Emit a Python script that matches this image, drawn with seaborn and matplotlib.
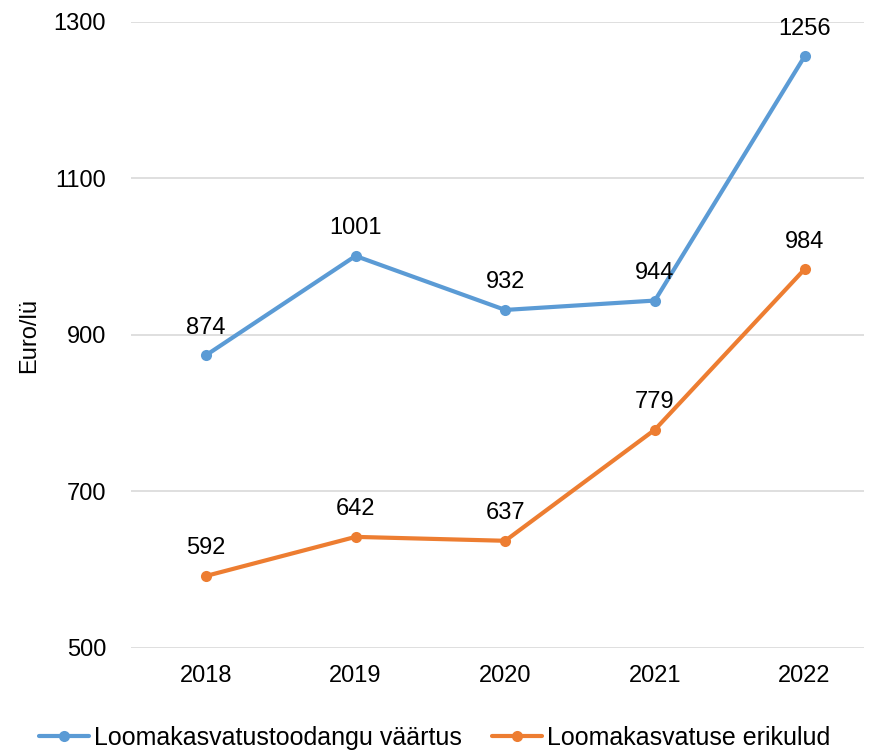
import numpy as np
import pandas as pd
import matplotlib
matplotlib.use("Agg")
import matplotlib.pyplot as plt
import seaborn as sns

# data
years = ["2018", "2019", "2020", "2021", "2022"]
toodang = [874, 1001, 932, 944, 1256]
erikulud = [592, 642, 637, 779, 984]
series_names = ["Loomakasvatustoodangu väärtus", "Loomakasvatuse erikulud"]

df = pd.DataFrame({
    "aasta": years * 2,
    "vaartus": toodang + erikulud,
    "seeria": [series_names[0]] * 5 + [series_names[1]] * 5,
})

sns.set_theme(style="white")
plt.rcParams["font.family"] = ["Liberation Sans", "DejaVu Sans"]
plt.rcParams["text.color"] = "black"
plt.rcParams["xtick.color"] = "black"
plt.rcParams["ytick.color"] = "black"
plt.rcParams["axes.labelcolor"] = "black"

fig = plt.figure(figsize=(8.7, 7.5), dpi=100)
ax = fig.add_axes([0.1506, 0.136, 0.843, 0.8347])

pal = {series_names[0]: "#5B9BD5", series_names[1]: "#ED7D31"}
sns.lineplot(data=df, x="aasta", y="vaartus", hue="seeria", palette=pal,
             marker="o", markersize=8, markeredgewidth=0, linewidth=3,
             sort=False, ax=ax)

# value labels above points
for vals in (toodang, erikulud):
    for i, v in enumerate(vals):
        ax.annotate(str(v), (i, v), xytext=(0, 12), textcoords="offset points",
                    ha="center", va="bottom", fontsize=17, color="black")

ax.set_ylim(500, 1300)
ax.set_yticks([500, 700, 900, 1100, 1300])
ax.set_xlim(-0.5, 4.4)
ax.grid(axis="y", color="#D9D9D9", linewidth=1.2)
ax.set_axisbelow(True)
for s in ax.spines.values():
    s.set_visible(False)
ax.tick_params(axis="x", labelsize=17, length=0, pad=12)
ax.tick_params(axis="y", labelsize=17, length=0, pad=18)
ax.set_xlabel("")
ax.set_ylabel("Euro/lü", fontsize=17, labelpad=10)

ax.legend(loc="lower center", bbox_to_anchor=(0.5, 0.0), bbox_transform=fig.transFigure,
          ncol=2, frameon=False, fontsize=18, handlelength=2.0, columnspacing=1.2,
          handletextpad=0.2, borderaxespad=0.0, borderpad=0.0)

fig.savefig("out.png", dpi=100)
